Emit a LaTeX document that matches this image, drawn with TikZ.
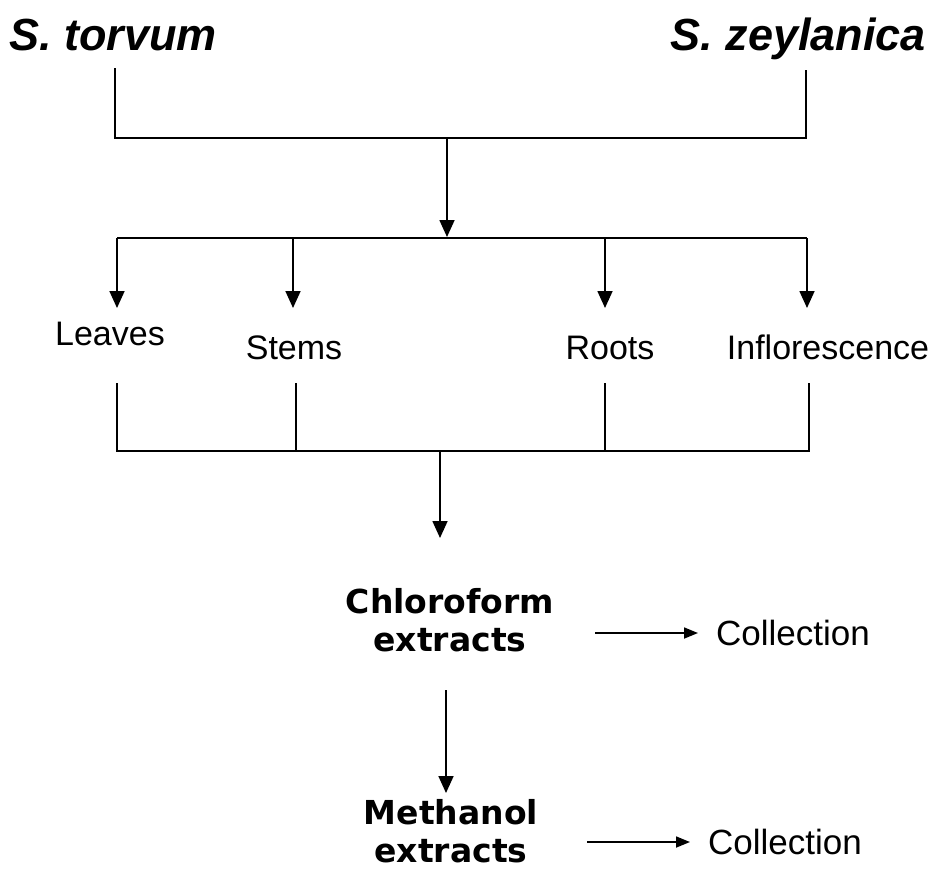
\documentclass[tikz,border=0pt]{standalone}
\usepackage{fontspec}
\setmainfont{Liberation Sans}
\newfontfamily\verd{DejaVu Sans}
\usetikzlibrary{arrows.meta}
\begin{document}
\begin{tikzpicture}[x=1pt,y=-1pt,
  ln/.style={line width=1.7pt,black},
  arr/.style={ln,-{Triangle[width=15pt,length=17pt]}},
  sarr/.style={ln,-{Triangle[width=11pt,length=14pt]}},
  sp/.style={font=\fontsize{45}{50}\selectfont\bfseries\itshape,inner sep=0pt,anchor=base},
  part/.style={font=\fontsize{34}{38}\selectfont,inner sep=0pt,anchor=base},
  ext/.style={font=\verd\bfseries\fontsize{33}{38}\selectfont,align=center,inner sep=0pt},
  coll/.style={font=\fontsize{35}{38}\selectfont,inner sep=0pt,anchor=west}]
\useasboundingbox[fill=white] (0,0) rectangle (941,871);

% species
\node[sp] (torvum) at (113,50) {S. torvum};
\node[sp,anchor=base east] (zeyl) at (926,50) {S. zeylanica};
\coordinate (a1) at (115,68);
\coordinate (a2) at (806,70);
\coordinate (j1) at (447,138);
\coordinate (j2) at (447,237);
\draw[ln] (a1) |- (j1) -| (a2);
\draw[arr] (j1) -- (j2);

% parts
\node[part] (leaves) at (110,345) {Leaves};
\node[part] (stems) at (294,359) {Stems};
\node[part] (roots) at (610,359) {Roots};
\node[part] (infl) at (828,359) {Inflorescence};

\coordinate (b1) at (117,238);
\coordinate (b2) at (293,238);
\coordinate (b3) at (605,238);
\coordinate (b4) at (807,238);
\draw[ln] (b1) -- (b4);
\coordinate (t1) at (117,308);
\coordinate (t2) at (293,308);
\coordinate (t3) at (605,308);
\coordinate (t4) at (807,308);
\draw[arr] (b1) -- (t1);
\draw[arr] (b2) -- (t2);
\draw[arr] (b3) -- (t3);
\draw[arr] (b4) -- (t4);

% collecting bracket
\coordinate (c1) at (117,383);
\coordinate (c2) at (296,383);
\coordinate (c3) at (605,383);
\coordinate (c4) at (809,383);
\coordinate (d1) at (117,451);
\coordinate (d2) at (296,451);
\coordinate (d3) at (605,451);
\coordinate (d4) at (809,451);
\draw[ln] (c1) -- (d1) -- (d4) -- (c4);
\draw[ln] (c2) -- (d2);
\draw[ln] (c3) -- (d3);
\coordinate (e1) at (440,451);
\coordinate (e2) at (440,538);
\draw[arr] (e1) -- (e2);

% extracts
\node[ext] (chloro) at (450,620) {Chloroform\\extracts};
\node[ext] (meth) at (451,831) {Methanol\\extracts};
\coordinate (f1) at (446,690);
\coordinate (f2) at (446,793);
\draw[arr] (f1) -- (f2);

\node[coll] (coll1) at (716,633) {Collection};
\node[coll] (coll2) at (708,842) {Collection};
\coordinate (g1) at (595,633);
\coordinate (g2) at (587,842);
\draw[sarr] (g1) -- (coll1.west -| 698,0);
\draw[sarr] (g2) -- (coll2.west -| 690,0);
\end{tikzpicture}
\end{document}
